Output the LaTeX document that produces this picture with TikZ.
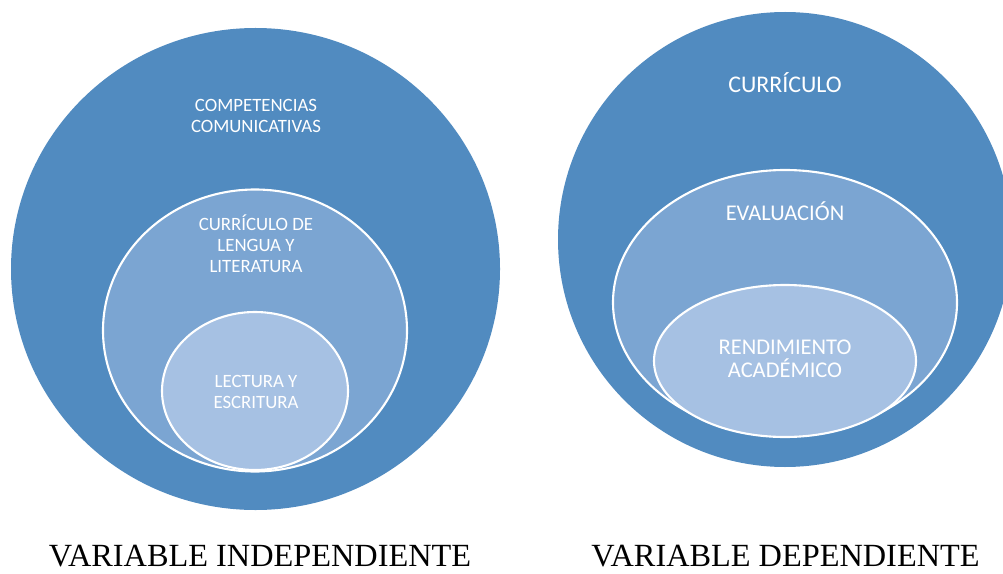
\documentclass[tikz,border=0pt]{standalone}
\usepackage{fontspec}
\setmainfont{Liberation Serif}
\newfontfamily\calfont{Carlito}
\usepackage{tikz}

\definecolor{bluedark}{RGB}{81,139,192}
\definecolor{bluemid}{RGB}{123,165,210}
\definecolor{bluelight}{RGB}{166,193,227}

\tikzset{
  ring/.style = {draw=white, line width=1.2pt},
  lbl/.style = {text=white, align=center, font=\calfont\fontsize{10.7}{11.9}\selectfont},
  lblbig/.style = {text=white, align=center, font=\calfont\fontsize{12.8}{12.8}\selectfont},
  caption/.style = {text=black, inner sep=0pt, font=\fontsize{18.4}{20}\selectfont}
}

\begin{document}
\begin{tikzpicture}[x=0.02cm, y=-0.02cm]
\useasboundingbox (0,0) rectangle (1003,574);
\clip (0,0) rectangle (1003,574);

% variable independiente
\fill[bluedark] (255.5,269) ellipse [x radius=244.5, y radius=241];
\draw[ring, fill=bluemid] (255,330.5) ellipse [x radius=152, y radius=141];
\draw[ring, fill=bluelight] (255,391) ellipse [x radius=93, y radius=79];

\node[lbl] (comp) at (256,116) {COMPETENCIAS\\COMUNICATIVAS};
\node[lbl] (curr) at (256,244) {CURRÍCULO DE\\LENGUA Y\\LITERATURA};
\node[lbl] (lect) at (256,392) {LECTURA Y\\ESCRITURA};

% variable dependiente
\fill[bluedark] (785,239.5) ellipse [x radius=227, y radius=227.5];
\draw[ring, fill=bluemid] (785,302.5) ellipse [x radius=172, y radius=132.5];
\draw[ring, fill=bluelight] (785,361) ellipse [x radius=131, y radius=76];

\node[lblbig, font=\calfont\fontsize{13.6}{13.6}\selectfont] (curric) at (785,83) {CURRÍCULO};
\node[lblbig] (eval) at (785,211) {EVALUACIÓN};
\node[lblbig] (rend) at (785,359) {RENDIMIENTO\\ACADÉMICO};

\node[caption, anchor=base] (vind) at (260,566) {VARIABLE INDEPENDIENTE};
\node[caption, anchor=base] (vdep) at (785.5,566) {VARIABLE DEPENDIENTE};
\end{tikzpicture}
\end{document}
